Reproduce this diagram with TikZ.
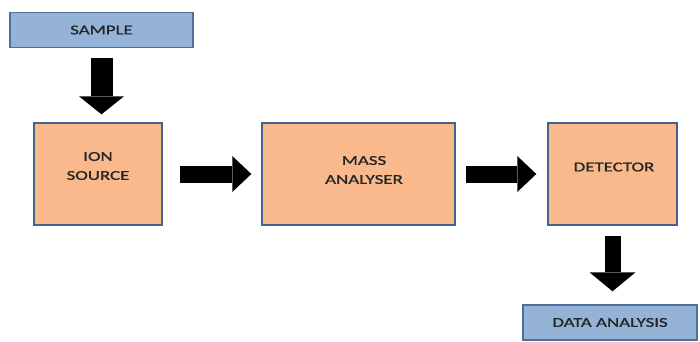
\documentclass[tikz,border=0pt]{standalone}
\usepackage{fontspec}
\setmainfont{Carlito}[FakeStretch=1.4, FakeBold=1.2]
\usetikzlibrary{arrows.meta}
\definecolor{peach}{RGB}{249,185,140}
\definecolor{pborder}{RGB}{66,100,140}
\definecolor{bluefill}{RGB}{149,179,215}
\definecolor{bborder}{RGB}{80,110,150}
\tikzset{
  stagebox/.style={draw=pborder, fill=peach, line width=1.4pt, minimum height=102pt, inner sep=0pt},
  endbox/.style={draw=bborder, fill=bluefill, line width=1.4pt, minimum height=35pt, inner sep=0pt, font=\fontsize{13.5}{16}\selectfont, text=black!85},
  boxtext/.style={font=\fontsize{13.5}{19}\selectfont, align=center, text=black!85},
  blockarrow/.style={draw=black, line width=#1, line cap=butt},
}
\begin{document}
\begin{tikzpicture}[x=1pt,y=-1pt]
\useasboundingbox[fill=white] (0,0) rectangle (700,341);
\node[endbox, minimum width=183pt] (sample) at (101.5,30) {SAMPLE};
\node[stagebox, minimum width=128pt] (ion) at (98,174) {};
\node[boxtext] (iontext) at (98,166) {ION\\SOURCE};
\node[stagebox, minimum width=193pt] (mass) at (358.5,174) {};
\node[boxtext] (masstext) at (364,170) {MASS\\ANALYSER};
\node[stagebox, minimum width=129pt] (det) at (612.5,174) {};
\node[boxtext] (dettext) at (614,167) {DETECTOR};
\node[endbox, minimum width=174pt] (data) at (610,322.5) {DATA ANALYSIS};
\draw[blockarrow=22pt, -{Triangle[length=18pt,width=45pt,line width=0pt]}, shorten <=10pt, shorten >=8pt] (sample.south) -- (sample.south |- ion.north);
\draw[blockarrow=17pt, -{Triangle[length=19pt,width=36pt,line width=0pt]}, shorten <=17pt, shorten >=10pt] (ion.east) -- (mass.west);
\draw[blockarrow=17pt, -{Triangle[length=19pt,width=36pt,line width=0pt]}, shorten <=10pt, shorten >=11pt] (mass.east) -- (det.west);
\draw[blockarrow=16pt, -{Triangle[length=19pt,width=46pt,line width=0pt]}, shorten <=10pt, shorten >=13pt] (det.south) -- (det.south |- data.north);
\end{tikzpicture}
\end{document}
